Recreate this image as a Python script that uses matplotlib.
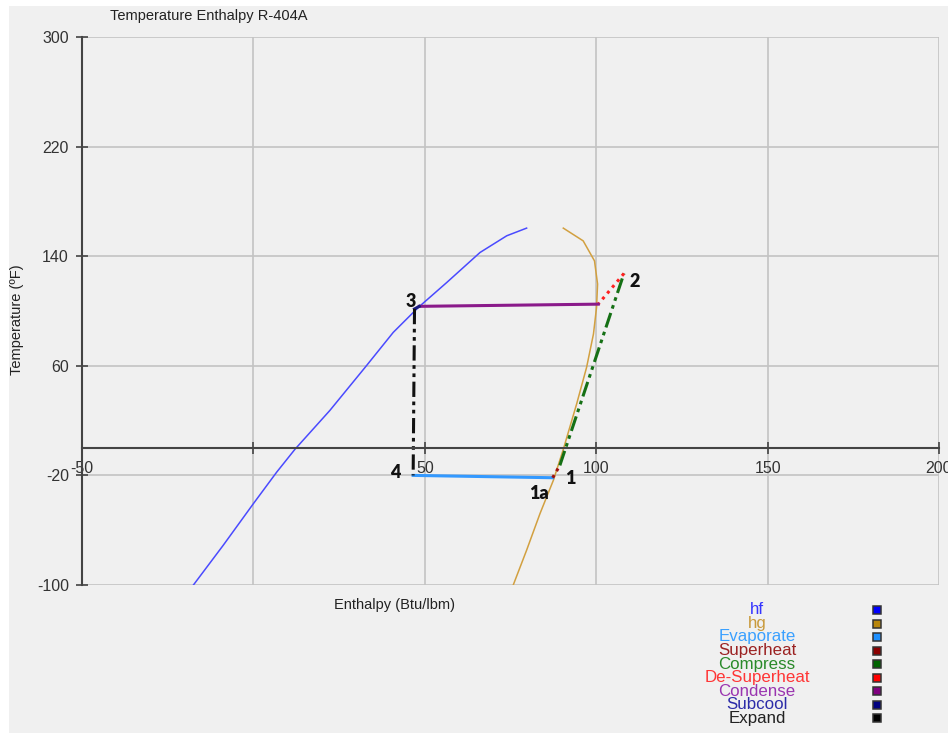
import numpy as np
import matplotlib
matplotlib.use("Agg")
import matplotlib.pyplot as plt
from matplotlib.patches import Rectangle
from matplotlib.lines import Line2D

plt.rcParams['font.family'] = ['Liberation Sans', 'DejaVu Sans']
plt.rcParams['axes.unicode_minus'] = False

# saturation curves, enthalpy (Btu/lbm) vs temperature (F)
hf_h = [-17.5, -8.8, 0.0, 6.8, 12.1, 22.3, 32.6, 40.8, 48.1, 56.4, 66.1, 73.9, 79.7]
hf_t = [-100, -71.0, -40.6, -17.6, -1.0, 27.4, 58.9, 84.4, 102.6, 120.8, 142.7, 154.9, 160.5]
hg_h = [75.8, 79.7, 83.6, 87.5, 90.4, 94.3, 97.2, 99.2, 100.1, 100.4, 99.5, 96.2, 90.4]
hg_t = [-100, -74.6, -47.9, -23.6, -1.0, 32.2, 58.9, 83.2, 102.6, 119.7, 136.6, 151.2, 160.5]

# refrigeration cycle state points
cycle_h = {'4': 46.6, '1a': 87.3, '1': 89.4, '2': 108.1, '2s': 100.6, '3': 48.4, '3s': 47.0}
cycle_t = {'4': -20.0, '1a': -21.7, '1': -12.7, '2': 127.4, '2s': 105.0, '3': 103.4, '3s': 101.5}

legend_names = ['hf', 'hg', 'Evaporate', 'Superheat', 'Compress',
                'De-Superheat', 'Condense', 'Subcool', 'Expand']
legend_text_colors = ['#3535ff', '#c99a3c', '#3aa0ff', '#9b2222', '#2a8a2a',
                      '#ff3535', '#9a35b0', '#2c2ca8', '#222222']
legend_box_colors = ['#0000ff', '#b8860b', '#1e90ff', '#8b0000', '#006400',
                     '#ff0000', '#800080', '#000080', '#000000']

xticks = [-50, 0, 50, 100, 150, 200]
xtick_labels = ['-50', '', '50', '100', '150', '200']
yticks = [-100, -20, 60, 140, 220, 300]

W, H = 948, 733
fig = plt.figure(figsize=(W / 100, H / 100), dpi=100, facecolor='white')
fig.patches.append(Rectangle((9 / W, 0), 1 - 9 / W, 1 - 6 / H, transform=fig.transFigure,
                             facecolor='#f0f0f0', edgecolor='none', zorder=-10))

ax = fig.add_axes([82 / W, 1 - 585 / H, (939 - 82) / W, (585 - 37) / H])
ax.set_facecolor('#f0f0f0')
ax.set_xlim(-50, 200)
ax.set_ylim(-100, 300)
ax.set_xticks(xticks)
ax.set_xticklabels(xtick_labels)
ax.set_yticks(yticks)
ax.grid(True, color='#c3c3c3', linewidth=1.2)
ax.set_axisbelow(True)

for s in ['top', 'right']:
    ax.spines[s].set_visible(False)
ax.spines['bottom'].set_position(('data', 0))
ax.spines['bottom'].set_color('#444444')
ax.spines['left'].set_color('#444444')
ax.spines['bottom'].set_linewidth(1.5)
ax.spines['left'].set_linewidth(1.5)
ax.tick_params(direction='inout', length=9, width=1.2, color='#444444',
               labelsize=11.5, labelcolor='#333333')
ax.tick_params(axis='x', pad=5)
ax.tick_params(axis='y', pad=5)

ax.plot(hf_h, hf_t, color='#4a4aff', linewidth=1.1)
ax.plot(hg_h, hg_t, color='#d2a040', linewidth=1.1)


def seg(a, b, **kw):
    ax.plot([cycle_h[a], cycle_h[b]], [cycle_t[a], cycle_t[b]], linewidth=2.2, **kw)


dashdotdot = (0, (5, 1.5, 1.2, 1.5, 1.2, 1.5))
seg('4', '1a', color='#3399ff')
seg('1a', '1', color='#a01010', linestyle=(0, (1, 1.5)))
seg('1', '2', color='#157015', linestyle=dashdotdot)
seg('2', '2s', color='#ff2020', linestyle=(0, (1, 1.5)))
seg('2s', '3', color='#8a1a8a')
seg('3', '3s', color='#1a1a80')
seg('3s', '4', color='#111111', linestyle=dashdotdot)

pt_font = dict(family=['Lato', 'DejaVu Sans'], fontweight='heavy', fontsize=13,
               color='#111111', ha='center', va='center')
ax.text(45.8, 106.8, '3', **pt_font)
ax.text(111.3, 121.5, '2', **pt_font)
ax.text(92.4, -22.0, '1', **pt_font)
ax.text(83.4, -33.5, '1a', **pt_font)
ax.text(41.4, -17.6, '4', **pt_font)

fig.text(110 / W, 1 - 16 / H, 'Temperature Enthalpy R-404A', fontsize=10.5,
         color='#222222', ha='left', va='center')
fig.text(17 / W, 1 - 320 / H, 'Temperature (\u00baF)', fontsize=10.5, color='#222222',
         rotation=90, ha='center', va='center')
fig.text(395 / W, 1 - 605 / H, 'Enthalpy (Btu/lbm)', fontsize=10.5, color='#222222',
         ha='center', va='center')

# legend: centred names with small colour boxes on the right
for i, name in enumerate(legend_names):
    y = 1 - (610 + 13.5 * i) / H
    fig.text(757 / W, y, name, fontsize=12.2, color=legend_text_colors[i],
             ha='center', va='center')
    fig.add_artist(Line2D([877 / W], [y], transform=fig.transFigure, marker='s',
                          markersize=5.5, markerfacecolor=legend_box_colors[i],
                          markeredgecolor='#333333', markeredgewidth=1.1, linestyle='none'))

fig.savefig('out.png', dpi=100, facecolor=fig.get_facecolor())
